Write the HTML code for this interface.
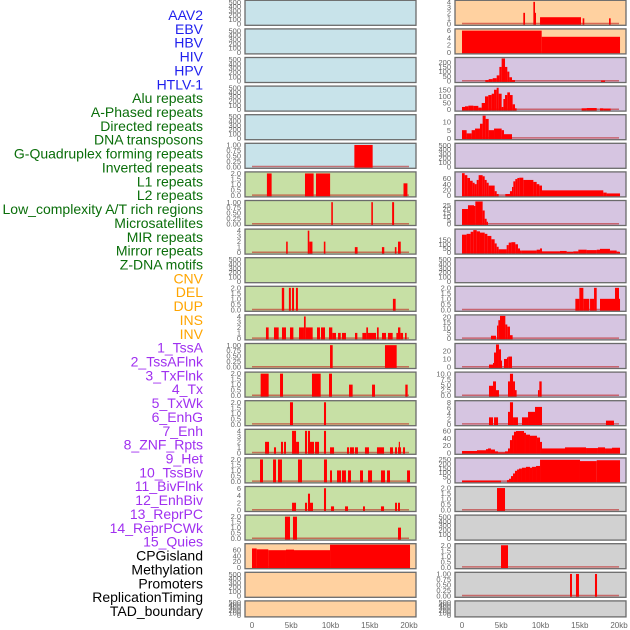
<!DOCTYPE html>
<html><head><meta charset="utf-8"><style>
html,body{margin:0;padding:0;background:#fff;width:630px;height:630px;overflow:hidden}
svg{display:block;font-family:"Liberation Sans",sans-serif}
</style></head><body>
<svg id="chart" width="630" height="630" viewBox="0 0 630 630"></svg>
<script>
// ---- data ----
const labelNames = ["AAV2","EBV","HBV","HIV","HPV","HTLV-1","Alu repeats","A-Phased repeats","Directed repeats","DNA transposons","G-Quadruplex forming repeats","Inverted repeats","L1 repeats","L2 repeats","Low_complexity A/T rich regions","Microsatellites","MIR repeats","Mirror repeats","Z-DNA motifs","CNV","DEL","DUP","INS","INV","1_TssA","2_TssAFlnk","3_TxFlnk","4_Tx","5_TxWk","6_EnhG","7_Enh","8_ZNF_Rpts","9_Het","10_TssBiv","11_BivFlnk","12_EnhBiv","13_ReprPC","14_ReprPCWk","15_Quies","CPGisland","Methylation","Promoters","ReplicationTiming","TAD_boundary"];
const labelGroups = [0,0,0,0,0,0,1,1,1,1,1,1,1,1,1,1,1,1,1,2,2,2,2,2,3,3,3,3,3,3,3,3,3,3,3,3,3,3,3,4,4,4,4,4];
const xTickLabels = ["0","5kb","10kb","15kb","20kb"];
const xTickValues = [0,5,10,15,20];

const tE = ["0","100","200","300","400","500"];
const t1 = ["0.00","0.25","0.50","0.75","1.00"];
const t2 = ["0.0","0.5","1.0","1.5","2.0"];
const t4 = ["0","1","2","3","4"];
const t6 = ["0","2","4","6"];
const t60 = ["0","20","40","60"];

// left column series: [startKb, endKb, value]
const L5 = [[13.04,15.37,1]];
const L6 = [[1.9,2.5,2],[6.75,7.85,2],[8.15,9.95,2],[19.3,19.8,1.1]];
const L7 = [[10.1,10.3,1],[15.2,15.4,1],[17.85,18.1,1]];
const L8 = [[4.35,4.55,2],[7.1,7.3,4],[7.3,7.7,2],[9.15,9.35,2],[13.1,13.45,1],[16.55,16.85,1],[18.2,18.4,1],[18.6,18.95,2]];
const L10 = [[3.8,4.1,2],[4.7,4.95,2],[5.1,5.35,2],[5.6,5.85,2],[17.95,18.3,1]];
const L11 = [[1.78,2.12,2],[2.8,3.4,2],[3.82,4.33,2],[4.84,5.27,2],[5.99,6.62,2],[6.62,6.84,4],[6.84,7.73,2],[8.28,8.66,2],[8.79,9.3,2],[9.81,10.23,2],[10.23,10.7,1],[10.96,11.3,1],[11.46,11.97,1],[13.12,13.42,1],[14.06,14.56,1],[14.56,14.78,2],[14.78,15.8,1],[15.92,16.14,2],[16.56,17.07,1],[17.32,17.92,1],[18.39,18.6,1],[18.6,18.9,2],[18.9,19.24,1],[19.49,19.7,1]];
const L12 = [[9.94,10.28,1],[16.94,18.43,1]];
const L13 = [[1.1,2.12,2],[3.57,3.95,2],[7.64,8.75,2],[9.81,10.19,2],[12.36,12.82,1],[15.29,15.67,1],[19.53,19.83,1]];
const L14 = [[4.84,5.22,2],[9.17,9.43,2]];
const L15 = [[1.66,2.17,2],[2.8,3.06,1],[3.69,3.95,2],[4.08,4.33,2],[5.1,5.61,4],[5.61,5.99,2],[6.75,7.01,4],[7.13,7.39,4],[7.39,7.9,2],[8.03,8.54,2],[9.17,9.43,4],[9.94,10.45,1],[12.1,12.36,1],[12.48,12.99,1],[13.12,13.5,1],[14.39,14.9,1],[15.92,16.82,1],[17.58,17.96,1],[18.22,18.47,1],[18.6,18.98,1],[18.7,18.85,2],[19.24,19.49,1]];
const L16 = [[1.02,1.4,2],[2.68,3.06,2],[3.31,3.82,2],[5.86,6.37,2],[9.17,9.55,2],[9.94,10.19,1],[10.83,11.34,1],[11.46,11.97,1],[12.23,12.61,1],[13.76,14.14,1],[14.78,15.29,1],[16.43,16.94,1],[17.2,17.58,1],[19.75,20.13,1]];
const L17 = [[5.1,5.61,2],[6.75,7.01,2],[7.13,7.39,4.5],[7.39,7.77,2],[9.17,9.43,6],[10.06,10.45,1],[11.85,12.23,1],[14.14,14.39,1],[16.43,16.82,1],[18.22,18.47,2],[18.6,18.85,2]];
const L18 = [[4.2,4.84,2],[5.22,5.73,2],[18.6,18.98,1]];
const L19 = [[0,0.59,65],[0.59,2.08,62],[2.08,4.33,59],[4.33,5.35,61],[5.35,9.94,59],[9.94,20.13,78]];

// right column series
const R0 = [[7.81,8.03,2],[9.09,9.3,4],[9.3,9.4,2],[9.94,15.16,1.2],[15.37,15.58,1],[18.73,18.94,1]];
const R1 = [[0,10.15,6],[10.15,20.13,4.3]];
const R2 = [[2.97,3.4,10],[3.4,3.91,20],[3.91,4.42,30],[4.42,4.76,60],[4.76,5.05,150],[5.05,5.48,240],[5.48,5.77,150],[5.77,6.03,100],[6.03,6.37,40],[6.37,6.75,10],[17.71,18.22,5]];
const R3 = [[0,0.38,20],[0.38,0.81,25],[0.81,1.44,30],[1.44,2.08,28],[2.08,2.51,15],[2.51,2.93,50],[2.93,3.35,100],[3.35,3.78,110],[3.78,4.08,120],[4.08,4.42,150],[4.42,4.67,165],[4.67,5.05,120],[5.05,5.27,20],[5.27,5.48,80],[5.48,5.77,110],[5.77,6.11,130],[6.11,6.45,110],[6.45,6.75,40],[6.75,6.96,10],[15.24,15.88,10],[15.88,17.16,12],[17.58,18.0,10],[18.0,18.94,8]];
const R4 = [[0,0.59,5],[0.59,1.23,3],[1.23,1.66,5],[1.66,2.29,6],[2.29,2.63,9],[2.63,3.01,14],[3.01,3.4,12],[3.4,4.08,5],[4.08,5.05,6],[5.05,5.35,5],[5.35,6.37,2.5]];
const R6 = [[0,0.34,79],[0.34,0.68,72],[0.68,1.02,62],[1.02,1.36,52],[1.36,1.61,45],[1.61,1.87,40],[1.87,2.12,55],[2.12,2.63,72],[2.63,2.89,68],[2.89,3.14,55],[3.14,3.4,45],[3.4,4.16,35],[4.16,4.42,15],[4.42,4.67,5],[5.52,6.11,5],[6.11,6.37,15],[6.37,6.54,30],[6.54,6.79,50],[6.79,7.05,58],[7.05,7.3,62],[7.3,7.81,63],[7.81,9.09,55],[9.09,9.51,48],[9.51,9.85,40],[9.85,10.19,35],[10.19,18.0,18],[18.0,18.43,10],[18.43,20.13,7]];
const R7 = [[0,0.76,20],[0.76,1.53,25],[1.53,1.7,24],[1.7,2.63,30],[2.63,2.89,18],[2.89,3.14,7],[3.14,3.31,3]];
const R8 = [[0,0.59,215],[0.59,1.10,225],[1.10,1.44,250],[1.44,1.87,270],[1.87,2.29,255],[2.29,2.89,240],[2.89,3.23,225],[3.23,3.74,200],[3.74,4.16,160],[4.16,4.42,110],[4.42,4.67,70],[4.67,5.69,40],[5.69,5.95,90],[5.95,6.29,120],[6.29,6.79,125],[6.79,7.13,100],[7.13,7.39,50],[7.39,7.6,25],[7.6,9.51,25],[9.51,9.94,35],[9.94,10.19,50],[10.19,12.48,15],[12.48,13.33,20],[13.33,14.18,8],[14.18,14.82,15],[14.82,15.88,35],[15.88,17.16,30],[17.16,17.58,35],[17.58,18.85,45],[18.85,19.7,25],[19.7,20.13,10]];
const R10 = [[14.44,14.95,1],[14.95,15.46,2],[15.46,16.22,1],[16.31,16.82,1],[16.82,17.16,2],[17.58,19.49,1],[19.49,20.0,2],[20.0,20.13,1]];
const R11 = [[3.69,4.33,2.5],[4.46,4.63,12],[4.63,4.84,17],[4.84,5.52,21],[5.52,5.77,13],[5.77,6.11,11],[6.11,6.45,3]];
const R12 = [[3.44,3.95,3],[3.95,4.08,5],[4.08,4.33,18],[4.33,4.71,28],[4.71,4.97,22],[4.97,5.1,8],[5.35,5.73,10],[5.73,5.9,12],[5.9,6.37,13]];
const R13 = [[3.44,3.95,4.5],[3.95,4.33,6.5],[4.33,4.71,2.5],[5.86,6.11,6.5],[6.11,6.5,10],[6.5,6.75,6.5],[6.75,6.96,2.5],[9.68,9.85,2.5],[9.85,10.15,6.5]];
const R14 = [[3.44,3.95,2.5],[4.08,4.59,2.5],[5.86,6.11,4.5],[6.11,6.5,8],[6.5,7.13,2.5],[7.64,8.41,2.5],[8.41,9.3,4.5],[9.3,10.19,6.3],[18.34,19.36,1.3]];
const R15 = [[0,1.91,5],[1.91,3.06,7],[3.06,3.31,10],[3.31,3.69,12],[3.69,4.2,9],[4.2,4.59,4],[4.59,5.48,1],[5.48,5.86,4],[5.86,6.11,12],[6.11,6.37,35],[6.37,6.62,48],[6.62,6.88,58],[6.88,7.9,60],[7.9,8.15,55],[8.15,8.66,50],[8.66,9.55,47],[9.55,9.94,42],[9.94,10.19,30],[10.19,13.12,12],[13.12,15.8,15],[15.8,17.32,13],[17.32,18.22,15],[18.22,19.11,12],[19.11,20.13,14]];
const R16 = [[0,4.97,10],[5.73,5.99,15],[5.99,6.24,30],[6.24,6.5,60],[6.5,6.75,90],[6.75,7.01,120],[7.01,7.26,135],[7.26,7.64,145],[7.64,8.15,155],[8.15,8.66,165],[8.66,8.92,155],[8.92,9.43,165],[9.43,9.94,175],[9.94,15.03,245],[15.03,17.16,230],[17.16,20.13,240]];
const R17 = [[4.46,5.48,2]];
const R19 = [[4.97,5.86,2]];
const R20 = [[13.76,14.01,1],[14.52,14.9,1],[16.94,17.2,1]];

// ---- panel config ----
const BG = {blue:"#c8e3ea",green:"#c7e0a5",peach:"#ffd1a0",purple:"#d6c5e1",grey:"#d1d1d1"};
const leftPanels = [
 ["blue",tE,520,null],["blue",tE,520,null],["blue",tE,520,null],["blue",tE,520,null],["blue",tE,520,null],
 ["blue",t1,1.03,L5],["green",t2,2.05,L6],["green",t1,1.03,L7],["green",t4,4.1,L8],["green",tE,520,null],
 ["green",t2,2.05,L10],["green",t4,4.1,L11],["green",t1,1.03,L12],["green",t2,2.05,L13],["green",t2,2.05,L14],
 ["green",t4,4.1,L15],["green",t2,2.05,L16],["green",t6,6.2,L17],["green",t2,2.05,L18],["peach",t60,78,L19],
 ["peach",tE,520,null],["peach",tE,520,null]];
const rightPanels = [
 ["peach",t4,4.1,R0],["peach",t6,6.2,R1],["purple",["0","50","100","150","200"],240,R2],["purple",["0","50","100","150"],170,R3],
 ["purple",["0","5","10"],14,R4],["purple",tE,520,null],["purple",t60,80,R6],["purple",["0","5","10","15","20","25"],30,R7],
 ["purple",["0","50","100","150"],270,R8],["purple",tE,520,null],["purple",t2,2.05,R10],["purple",["0","5","10","15","20"],21,R11],
 ["purple",["0","10","20"],28,R12],["purple",["0.0","2.5","5.0","7.5","10.0"],10.3,R13],["purple",["0","2","4","6","8"],8.2,R14],
 ["purple",t60,62,R15],["purple",["0","50","100","150","200","250"],255,R16],["grey",t2,2.05,R17],["grey",tE,520,null],
 ["grey",t2,2.05,R19],["grey",t1,1.03,R20],["grey",tE,520,null]];

// ---- drawing ----
const NS = "http://www.w3.org/2000/svg";
const svg = document.getElementById("chart");
function mk(tag, attrs, parent){ const e=document.createElementNS(NS,tag); for(const k in attrs) e.setAttribute(k,attrs[k]); (parent||svg).appendChild(e); return e; }
const GROUP_COLORS = ["#1f1fee","#0a6e0a","#ffa500","#a030f0","#000000"];

labelNames.forEach((name,i)=>{
  const t = mk("text",{x:203,y:15+i*13.86+5,"text-anchor":"end","font-size":"14",fill:GROUP_COLORS[labelGroups[i]]});
  t.textContent = name;
  
  
});

function rowTop(i){ return 0.3+28.6*i; }
function rowH(i){ return i===21 ? 16 : 25; }

function drawPanel(cfg, i, side){
  const [bg,ticks,ymax,data] = cfg;
  const x0 = side==="L"?245:455, w=171, zeroX = side==="L"?252:462, pxPerKb=7.85;
  const top=rowTop(i), h=rowH(i);
  const g = mk("g",{});
  
  
  mk("rect",{x:x0,y:top,width:w,height:h,fill:BG[bg]},g);
  const yb = top+h-1.5, yt = top+1;
  const ys = v => yb - (v/ymax)*(yb-yt);
  const xs = kb => zeroX + kb*pxPerKb;
  ticks.forEach(lab=>{
    const t = mk("text",{x:x0-4,y:ys(parseFloat(lab))+2.6,"text-anchor":"end","font-size":"7.5",fill:"#666"},g);
    t.textContent = lab;
    
    
  });
  if(data){
    mk("line",{x1:xs(0),x2:xs(20),y1:yb-0.3,y2:yb-0.3,stroke:"rgba(190,20,20,0.55)","stroke-width":1.5},g);
    data.forEach(d=>{
      const y = Math.max(yt-1, ys(d[2]));
      const b = mk("rect",{x:xs(d[0]),y:y,width:Math.max(1,xs(d[1])-xs(d[0])),height:yb-y+1,fill:"#ff0000"},g);
      
      
    });
  }
  mk("rect",{x:x0,y:top,width:w,height:h,fill:"none",stroke:"#6b6b6b","stroke-width":1.3},g);
}
leftPanels.forEach((c,i)=>drawPanel(c,i,"L"));
rightPanels.forEach((c,i)=>drawPanel(c,i,"R"));

[[252,"L"],[462,"R"]].forEach(([zx])=>{
  xTickValues.forEach((v,k)=>{
    const t = mk("text",{x:zx+v*7.85,y:628,"text-anchor":"middle","font-size":"8",fill:"#666"});
    t.textContent = xTickLabels[k];
    
    
  });
});
</script>
</body></html>
